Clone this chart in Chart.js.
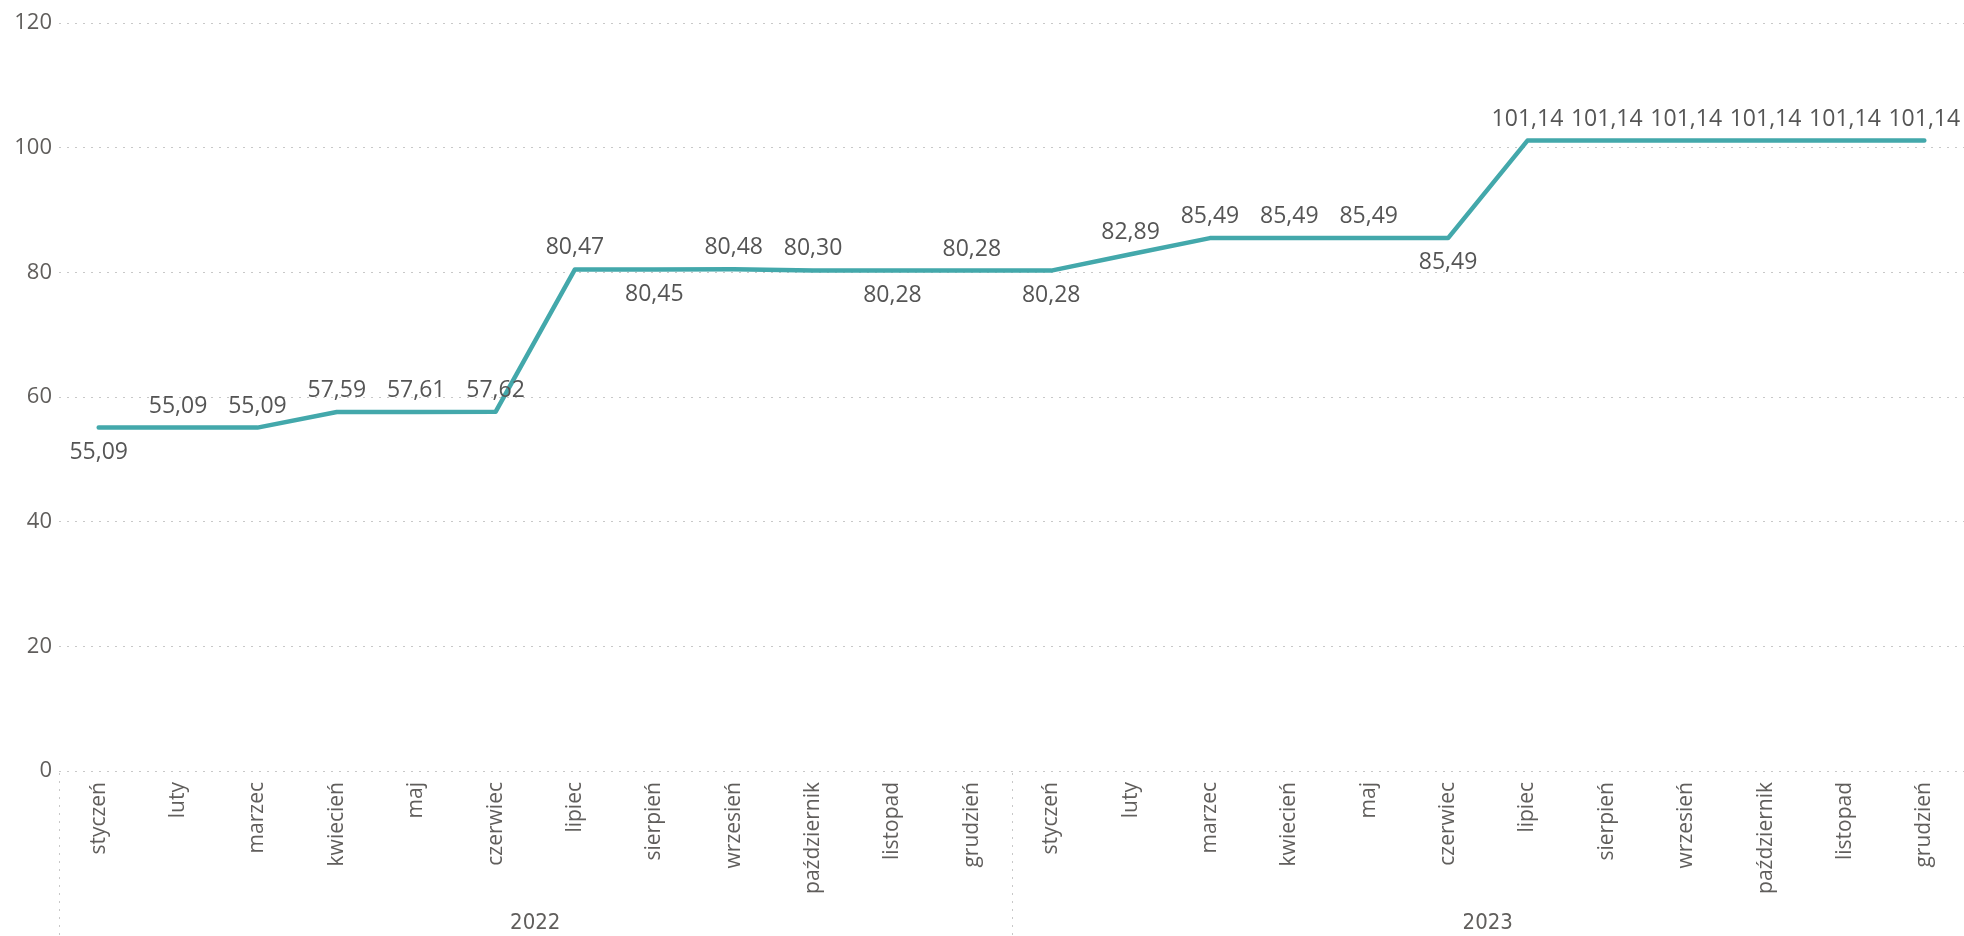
<!DOCTYPE html>
<html>
<head>
    <meta charset="utf-8">
    <title>Cena miesięczna</title>
    <script src="https://cdn.jsdelivr.net/npm/chart.js"></script>
    <style>
        html, body { margin: 0; padding: 0; background: #fff; }
        #chart { display: block; }
    </style>
</head>
<body>
    <canvas id="chart" width="1964" height="936"></canvas>

    <script>
        // Data
        const months = ['styczeń', 'luty', 'marzec', 'kwiecień', 'maj', 'czerwiec',
                        'lipiec', 'sierpień', 'wrzesień', 'październik', 'listopad', 'grudzień'];
        const years = ['2022', '2023'];
        const values2022 = [55.09, 55.09, 55.09, 57.59, 57.61, 57.62, 80.47, 80.45, 80.48, 80.30, 80.28, 80.28];
        const values2023 = [80.28, 82.89, 85.49, 85.49, 85.49, 85.49, 101.14, 101.14, 101.14, 101.14, 101.14, 101.14];
        const yTicks = [0, 20, 40, 60, 80, 100, 120];
        // which data labels sit under the line
        const labelsBelow = [0, 7, 10, 12, 17];

        const textColor = '#605E5C';
        const labelColor = '#555555';
        const lineColor = '#43A8AB';
        const gridColor = '#C8C8C8';
        const font = "'Open Sans', 'Noto Sans', sans-serif";
        const narrowFont = "'Liberation Sans Narrow', 'DejaVu Sans Condensed', sans-serif";

        const labels = [];
        years.forEach(() => months.forEach(m => labels.push(m)));
        const values = values2022.concat(values2023);

        // Data labels + year axis
        const extras = {
            id: 'extras',
            afterDatasetsDraw(chart) {
                const ctx = chart.ctx;
                const meta = chart.getDatasetMeta(0);
                ctx.save();
                ctx.font = '23px ' + font;
                ctx.fillStyle = labelColor;
                ctx.textAlign = 'center';
                meta.data.forEach((pt, i) => {
                    const txt = values[i].toFixed(2).replace('.', ',');
                    const w = ctx.measureText(txt).width;
                    let x = Math.min(pt.x, chart.width - w / 2 - 2);
                    if (labelsBelow.includes(i)) {
                        ctx.textBaseline = 'top';
                        ctx.fillText(txt, x, pt.y + 13);
                    } else {
                        ctx.textBaseline = 'alphabetic';
                        ctx.fillText(txt, x, pt.y - 15);
                    }
                });
                ctx.restore();
            },
            afterDraw(chart) {
                const ctx = chart.ctx;
                const xs = chart.scales.x;
                const step = xs.getPixelForValue(1) - xs.getPixelForValue(0);
                const top = chart.chartArea.bottom + 2;
                ctx.save();
                ctx.strokeStyle = gridColor;
                ctx.lineWidth = 1;
                ctx.setLineDash([2, 6]);
                years.forEach((yr, k) => {
                    const x0 = Math.round(xs.getPixelForValue(k * 12) - step / 2) + 0.5;
                    ctx.beginPath();
                    ctx.moveTo(x0, top);
                    ctx.lineTo(x0, chart.height);
                    ctx.stroke();
                });
                ctx.setLineDash([]);
                ctx.font = '22px ' + narrowFont;
                ctx.fillStyle = textColor;
                ctx.textAlign = 'center';
                ctx.textBaseline = 'middle';
                years.forEach((yr, k) => {
                    const x0 = xs.getPixelForValue(k * 12) - step / 2;
                    const x1 = xs.getPixelForValue(k * 12 + 11) + step / 2;
                    ctx.fillText(yr, (x0 + x1) / 2, 923);
                });
                ctx.restore();
            }
        };

        const ctx = document.getElementById('chart').getContext('2d');
        const chart = new Chart(ctx, {
            type: 'line',
            data: {
                labels: labels,
                datasets: [{
                    data: values,
                    borderColor: lineColor,
                    borderWidth: 4.5,
                    pointRadius: 0,
                    tension: 0,
                    borderJoinStyle: 'round',
                    borderCapStyle: 'round'
                }]
            },
            options: {
                responsive: false,
                animation: false,
                layout: { padding: { top: 23, right: -6, left: 0, bottom: 0 } },
                plugins: { legend: { display: false }, tooltip: { enabled: false } },
                scales: {
                    x: {
                        offset: true,
                        grid: { display: false, drawTicks: false },
                        border: { display: false },
                        ticks: {
                            autoSkip: false,
                            minRotation: 90,
                            maxRotation: 90,
                            padding: 11,
                            color: textColor,
                            font: { family: font, size: 21 }
                        },
                        afterFit(scale) { scale.height = 165; }
                    },
                    y: {
                        min: 0,
                        max: 120,
                        afterBuildTicks(scale) { scale.ticks = yTicks.map(v => ({ value: v })); },
                        grid: { color: gridColor, lineWidth: 1, drawTicks: false },
                        border: { display: false, dash: [2, 6] },
                        ticks: {
                            padding: 7,
                            color: textColor,
                            font: { family: font, size: 22 }
                        },
                        afterFit(scale) { scale.width = 59; }
                    }
                }
            },
            plugins: [extras]
        });
    </script>
</body>
</html>
